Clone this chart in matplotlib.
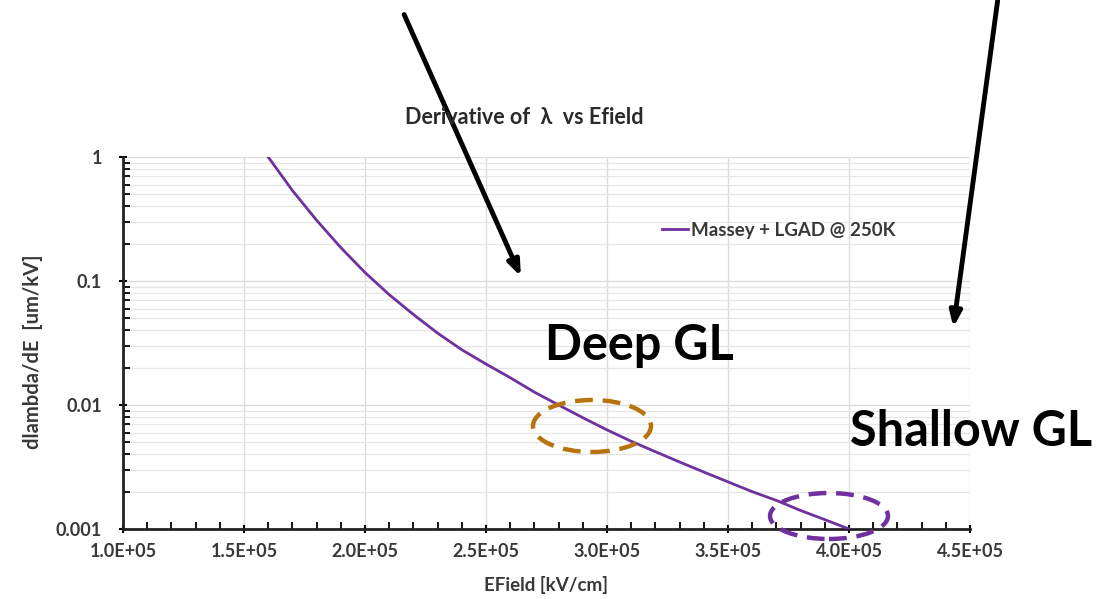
'''
Derivative of lambda vs Efield (log scale) with GL annotations
'''

import matplotlib
matplotlib.use("Agg")
import matplotlib.pyplot as plt
from matplotlib.patches import Ellipse
from matplotlib.ticker import FixedLocator, MultipleLocator, FuncFormatter, LogLocator, NullFormatter

# data
efield = [1.6e5, 1.7e5, 1.8e5, 1.9e5, 2.0e5, 2.1e5, 2.2e5, 2.3e5, 2.4e5,
          2.5e5, 2.6e5, 2.7e5, 2.8e5, 2.9e5, 3.0e5, 3.1e5, 3.2e5, 3.3e5,
          3.4e5, 3.5e5, 3.6e5, 3.7e5, 3.8e5, 3.9e5, 4.0e5]
dlambda = [1.0, 0.537, 0.309, 0.186, 0.117, 0.0776, 0.0537, 0.038, 0.0279,
           0.0214, 0.0166, 0.0127, 0.0100, 0.0079, 0.0063, 0.0051, 0.0042, 0.00347,
           0.00288, 0.0024, 0.0020, 0.0017, 0.00141, 0.00119, 0.001]
series_name = "Massey + LGAD @ 250K"
x_ticks = [1.0e5, 1.5e5, 2.0e5, 2.5e5, 3.0e5, 3.5e5, 4.0e5, 4.5e5]
y_ticks = [0.001, 0.01, 0.1, 1]
y_labels = ["0.001", "0.01", "0.1", "1"]

purple = "#7030a0"
orange = "#b8740c"
label_col = "#383838"
fam = ["Lato", "DejaVu Sans"]

W, H = 1104, 599
fig = plt.figure(figsize=(W / 100, H / 100), dpi=100)
ax = fig.add_axes([123 / W, 1 - 529 / H, (970 - 123) / W, (529 - 157) / H])

ax.plot(efield, dlambda, color=purple, lw=2.0, label=series_name, zorder=3)
ax.set_yscale("log")
ax.set_xlim(1.0e5, 4.5e5)
ax.set_ylim(0.001, 1)

# ticks
ax.xaxis.set_major_locator(FixedLocator(x_ticks))
ax.xaxis.set_minor_locator(MultipleLocator(1e4))
ax.xaxis.set_major_formatter(FuncFormatter(lambda v, p: f"{v:.1E}"))
ax.yaxis.set_major_locator(FixedLocator(y_ticks))
ax.yaxis.set_major_formatter(FuncFormatter(
    lambda v, p: y_labels[y_ticks.index(min(y_ticks, key=lambda t: abs(t - v)))]))
ax.yaxis.set_minor_locator(LogLocator(base=10, subs=range(2, 10)))
ax.yaxis.set_minor_formatter(NullFormatter())

ax.tick_params(which="major", direction="inout", length=6, width=1.5, color="black")
ax.tick_params(which="minor", direction="in", length=5, width=1.3, color="black")
ax.tick_params(axis="x", labelsize=13, labelcolor=label_col, pad=7)
ax.tick_params(axis="y", labelsize=13, labelcolor=label_col, pad=12)
for lab in ax.get_xticklabels() + ax.get_yticklabels():
    lab.set_fontweight("bold")
    lab.set_family(fam)

# grid
ax.grid(True, which="major", axis="both", color="#dcdcdc", lw=1.0)
ax.grid(True, which="minor", axis="y", color="#e6e6e6", lw=0.9)
ax.set_axisbelow(True)

for s in ["top", "right"]:
    ax.spines[s].set_visible(False)
for s in ["left", "bottom"]:
    ax.spines[s].set_linewidth(2.0)
    ax.spines[s].set_color("#222222")

ax.set_xlabel("EField [kV/cm]", fontsize=13.5, fontweight="bold", color=label_col, family=fam)
ax.set_ylabel("dlambda/dE  [um/kV]", fontsize=14.5, fontweight="bold", color=label_col, family=fam)
ax.xaxis.set_label_coords(0.5, (529 - 585) / (529 - 157))
ax.yaxis.set_label_coords((33 - 123) / (970 - 123), (529 - 352) / (529 - 157))
ax.xaxis.label.set_va("center")
ax.yaxis.label.set_va("center")

fig.text(524 / W, 1 - 117 / H, "Derivative of  λ  vs Efield", ha="center", va="center",
         fontsize=15.5, fontweight="bold", color="#2a2a2a", family=fam)

leg = ax.legend(loc="center left",
                bbox_to_anchor=((654 - 123) / (970 - 123), (529 - 230) / (529 - 157)),
                frameon=False, handlelength=1.4, handletextpad=0.15, borderaxespad=0,
                prop={"family": fam, "weight": "bold", "size": 13.5})
for t in leg.get_texts():
    t.set_color(label_col)

# annotations (slide overlay)
fig.text(545 / W, 1 - 346 / H, "Deep GL", ha="left", va="center",
         fontsize=35, fontweight="bold", color="black", family=fam)
fig.text(850 / W, 1 - 432 / H, "Shallow GL", ha="left", va="center",
         fontsize=35, fontweight="bold", color="black", family=fam)

fig.patches.append(Ellipse((592 / W, 1 - 426 / H), 118 / W, 52 / H, transform=fig.transFigure,
                           fill=False, ec=orange, lw=3.2, ls=(0, (4, 2.2)), zorder=5))
fig.patches.append(Ellipse((829 / W, 1 - 516 / H), 118 / W, 46 / H, transform=fig.transFigure,
                           fill=False, ec=purple, lw=3.2, ls=(0, (4, 2.2)), zorder=5))

arrow_kw = dict(arrowstyle="-|>,head_length=0.9,head_width=0.35", color="black", lw=3.5)
ax.annotate("", xy=(522 / W, 1 - 279 / H), xytext=(403 / W, 1 - 12 / H),
            xycoords="figure fraction", textcoords="figure fraction",
            arrowprops=arrow_kw, annotation_clip=False, zorder=6)
ax.annotate("", xy=(953 / W, 1 - 330 / H), xytext=(998 / W, 1 + 2 / H),
            xycoords="figure fraction", textcoords="figure fraction",
            arrowprops=arrow_kw, annotation_clip=False, zorder=6)

fig.savefig("out.png", dpi=100, facecolor="white")
